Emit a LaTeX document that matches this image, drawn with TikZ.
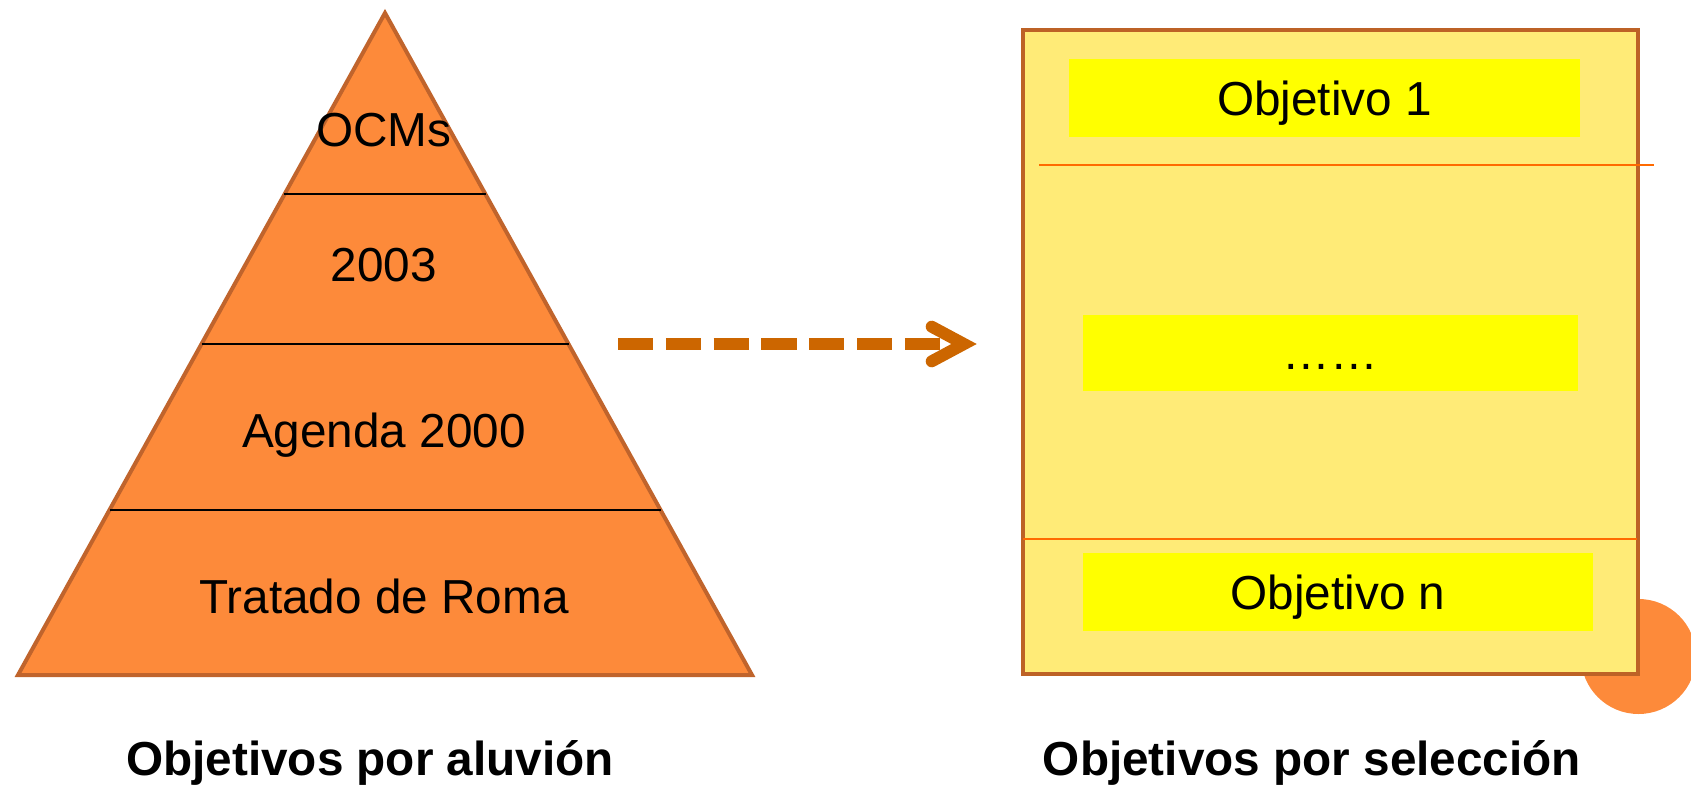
\documentclass[tikz,border=0pt]{standalone}
\usepackage{fontspec}
\setmainfont{Liberation Sans}
\definecolor{triFill}{HTML}{FD8A3A}
\definecolor{triEdge}{HTML}{C0642C}
\definecolor{arrowCol}{HTML}{CC6600}
\definecolor{boxFill}{HTML}{FFEB77}
\definecolor{boxEdge}{HTML}{BD6226}
\definecolor{objFill}{HTML}{FFFF00}
\definecolor{sepLine}{HTML}{FF6A00}
\begin{document}
\begin{tikzpicture}[x=0.5pt,y=-0.5pt,
  txt/.style={font=\fontsize{23.85}{28}\selectfont, anchor=base, inner sep=0pt},
  label/.style={font=\fontsize{23.85}{28}\selectfont\bfseries, anchor=base, inner sep=0pt},
  objbox/.style={fill=objFill, inner sep=0pt, text height=17.1pt, text depth=0pt,
    font=\fontsize{23.85}{28}\selectfont},
  tierline/.style={draw=black, line width=1pt},
  oline/.style={draw=sepLine, line width=1pt},
  dasharrow/.style={draw=arrowCol, line width=5.85pt, line cap=butt,
    dash pattern=on 17.6pt off 6.3pt},
  chevron/.style={draw=arrowCol, line width=6pt, line cap=round, line join=miter}]
\useasboundingbox (0,0) rectangle (1691,786);

% pyramid
\draw[fill=triFill, draw=triEdge, line width=2pt, line join=miter]
  (18,675) -- (385,13) -- (752,675) -- cycle;
\draw[tierline] (284.4,194.5) -- (485.6,194.5);
\draw[tierline] (201.5,344) -- (568.5,344);
\draw[tierline] (109.5,510) -- (660.5,510);
\node[txt] (ocm) at (384,147) {OCMs};
\node[txt] (y2003) at (384,282) {2003};
\node[txt] (ag2000) at (384,447) {Agenda 2000};
\node[txt] (roma) at (384,613) {Tratado de Roma};

% circle behind box
\fill[triFill] (1638.5,656.5) circle[radius=57.5];

% selection box
\node[draw=boxEdge, fill=boxFill, line width=2pt, minimum width=307.5pt,
  minimum height=322pt, inner sep=0pt] (box) at (1330.5,352) {};
\draw[oline] (1039,165) -- (1654,165);
\draw[oline] (1023,539) -- (1637,539);
\node[objbox, minimum width=255.5pt, minimum height=39pt] (o1) at (1324.6,98) {Objetivo 1};
\node[objbox, minimum width=247.5pt, minimum height=38pt] (omid) at (1330.5,352.5) {……};
\node[objbox, minimum width=255pt, minimum height=39pt] (on) at (1338,592) {Objetivo n};

% arrow
\coordinate (arrS) at (618,344);
\coordinate (arrE) at (942,344);
\coordinate (tip) at (964,344);
\draw[dasharrow] (arrS) -- (arrE);
\draw[chevron] (tip) ++(-32.3,-17.3) -- (tip) -- ++(-32.3,17.3);

% captions
\node[label] (capL) at (370,775) {Objetivos por aluvión};
\node[label] (capR) at (1312,775) {Objetivos por selección};
\end{tikzpicture}
\end{document}
